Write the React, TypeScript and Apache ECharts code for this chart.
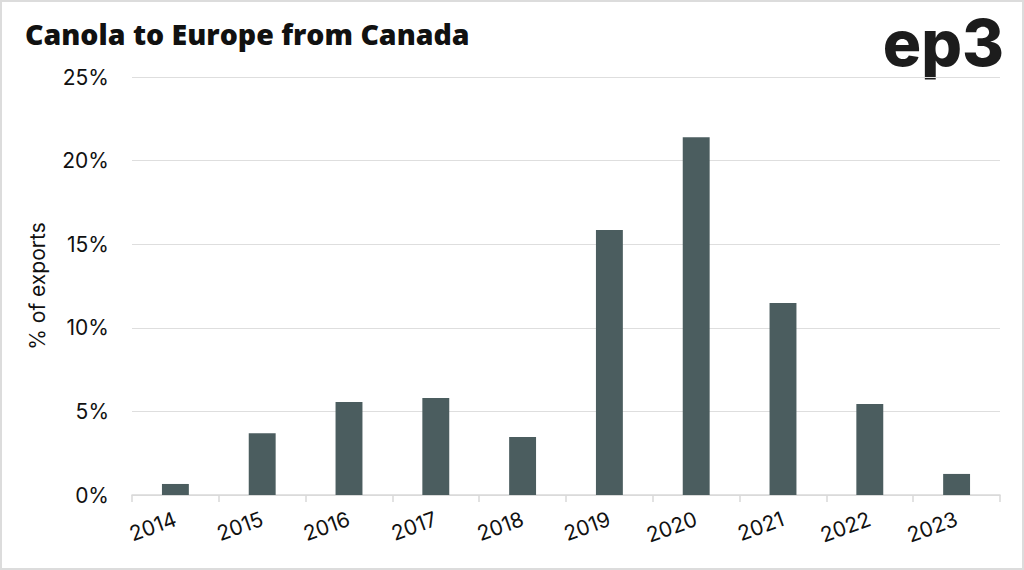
import React, { useEffect, useRef } from "react";
import * as echarts from "echarts";

const years = ["2014", "2015", "2016", "2017", "2018", "2019", "2020", "2021", "2022", "2023"];
const shareOfExports = [0.66, 3.7, 5.56, 5.8, 3.47, 15.85, 21.4, 11.48, 5.44, 1.26];
const titleText = "Canola to Europe from Canada";
const yAxisName = "% of exports";

export default function App() {
  const ref = useRef<HTMLDivElement>(null);
  useEffect(() => {
    document.body.style.margin = "0";
    const chart = echarts.init(ref.current!, null, { renderer: "svg" });
    const font = "Inter, 'Noto Sans', sans-serif";
    chart.setOption({
      animation: false,
      backgroundColor: "#ffffff",
      title: {
        text: titleText,
        left: 20,
        top: 14,
        textStyle: { fontFamily: "'Open Sans', Inter, sans-serif", fontWeight: 800, fontSize: 28.5, color: "#111111" },
      },
      graphic: [
        {
          type: "rect",
          shape: { x: 1, y: 1, width: 1022, height: 568 },
          style: { fill: "none", stroke: "#dcdcdc", lineWidth: 2 },
          silent: true,
        },
        {
          type: "text",
          right: 20,
          top: 10,
          style: {
            text: "ep3",
            font: "800 64px Inter, 'Noto Sans', sans-serif",
            fill: "#1c1c1c",
          },
        },
      ],
      grid: { left: 132, right: 24, top: 77, bottom: 75, containLabel: false },
      xAxis: {
        type: "category",
        data: years,
        axisLine: { show: true, lineStyle: { color: "#d9d9d9", width: 1.5 } },
        axisTick: { show: true, length: 7, lineStyle: { color: "#d9d9d9", width: 1.5 } },
        axisLabel: {
          rotate: 20,
          margin: 23,
          fontFamily: font,
          fontSize: 21,
          color: "#111111",
        },
      },
      yAxis: {
        type: "value",
        min: 0,
        max: 25,
        interval: 5,
        name: yAxisName,
        nameLocation: "middle",
        nameGap: 84,
        nameTextStyle: { fontFamily: font, fontSize: 21, color: "#111111" },
        axisLine: { show: false },
        axisTick: { show: false },
        splitLine: { lineStyle: { color: "#dedede", width: 1.2 } },
        axisLabel: {
          formatter: "{value}%",
          margin: 23,
          fontFamily: font,
          fontSize: 21,
          color: "#111111",
        },
      },
      series: [
        {
          type: "bar",
          data: shareOfExports,
          barWidth: "31%",
          itemStyle: { color: "#4b5d5f" },
        },
      ],
    });
    return () => chart.dispose();
  }, []);
  return <div ref={ref} style={{ width: 1024, height: 570 }} />;
}
